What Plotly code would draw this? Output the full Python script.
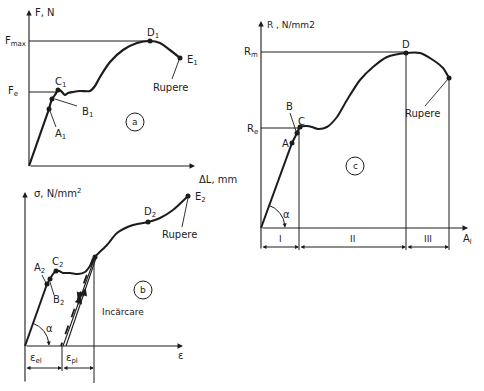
import numpy as np
import plotly.graph_objects as go

# ---------------- Panel a : F - ΔL ----------------
a_dL = [0, 20, 23, 26, 29, 32, 36, 39, 44, 51, 61, 66, 71, 81, 94, 108, 121, 131, 141, 151]
a_F = [0, 57, 67, 71, 76, 75, 71, 73, 74, 75, 75, 80, 89, 104, 116, 123, 125, 123, 116, 108]
a_pts_x = [20, 23, 29, 121, 151]
a_pts_y = [57, 67, 76, 125, 108]
a_pts_lbl = ["A<sub>1</sub>", "B<sub>1</sub>", "C<sub>1</sub>", "D<sub>1</sub>", "E<sub>1</sub>"]
a_Fe = 74
a_Fmax = 125

# ---------------- Panel b : σ - ε ----------------
b_eps = [0, 22, 25, 28, 31, 34, 38, 45, 53, 60, 65, 70, 82, 92, 108, 123, 135, 148, 163]
b_sig = [0, 62, 67, 72, 75, 75, 73, 73, 72, 74, 80, 89, 101, 113, 121, 124, 128, 136, 150]
b_pts_x = [22, 25, 31, 70, 123, 163]
b_pts_y = [62, 67, 75, 89, 124, 150]
b_unload_top = 69
b_unload_foot = 37

# ---------------- Panel c : R - A ----------------
c_A = [0, 31, 36, 39, 46, 51, 57, 66, 76, 86, 99, 112, 126, 145, 159, 172, 182, 188]
c_R = [0, 85, 95, 101, 102, 101, 99, 101, 111, 128, 148, 161, 171, 175, 175, 168, 160, 150]
c_pts_x = [31, 36, 39, 145, 188]
c_pts_y = [85, 95, 101, 175, 150]
c_Re = 100
c_Rm = 176
c_zones = ["I", "II", "III"]

INK = "#1c1c1c"
FONT = "DejaVu Sans"
fig = go.Figure()


def line(xs, ys, ax, w=1.0, dash=None, color=INK, shape="linear"):
    fig.add_trace(go.Scatter(x=xs, y=ys, mode="lines", xaxis="x" + ax, yaxis="y" + ax,
                             line=dict(color=color, width=w, dash=dash, shape=shape,
                                       smoothing=0.7 if shape == "spline" else None),
                             hoverinfo="skip", showlegend=False))


def curve(xs, ys, ax, k, w):
    # straight elastic part up to point k, smooth curve afterwards
    line(xs[:k + 1], ys[:k + 1], ax, w=w)
    line(xs[k:], ys[k:], ax, w=w, shape="spline")


def dots(xs, ys, ax):
    fig.add_trace(go.Scatter(x=xs, y=ys, mode="markers", xaxis="x" + ax, yaxis="y" + ax,
                             marker=dict(color=INK, size=5), hoverinfo="skip", showlegend=False))


anns = []


def txt(x, y, s, ax, size=10, xanchor="center", yanchor="middle"):
    anns.append(dict(x=x, y=y, text=s, xref="x" + ax, yref="y" + ax, showarrow=False,
                     xanchor=xanchor, yanchor=yanchor,
                     font=dict(family=FONT, size=size, color=INK)))


def arrow(x0, y0, x1, y1, ax, both=False, head=2, size=1.0, w=1.0):
    d = dict(x=x1, y=y1, ax=x0, ay=y0, xref="x" + ax, yref="y" + ax, axref="x" + ax, ayref="y" + ax,
             showarrow=True, arrowhead=head, arrowsize=size, arrowwidth=w, arrowcolor=INK, text="")
    if both:
        d["arrowside"] = "end+start"
        d["startarrowhead"] = head
        d["startarrowsize"] = size
    anns.append(d)


shapes = []


def circle(cx, cy, r, ax, label):
    shapes.append(dict(type="circle", xref="x" + ax, yref="y" + ax, x0=cx - r, x1=cx + r,
                       y0=cy - r, y1=cy + r, line=dict(color=INK, width=1)))
    txt(cx, cy, label, ax, size=9)


def arc(r, deg, ax):
    t = np.radians(np.linspace(deg, 3, 30))
    line(list(r * np.cos(t)), list(r * np.sin(t)), ax, w=1)
    arrow(r * np.cos(np.radians(8)), r * np.sin(np.radians(8)), r, 0.5, ax, head=2, size=0.8)


# ===== Panel a =====
A = ""
arrow(0, 0, 0, 156, A, w=1.1)
arrow(0, 0, 166, 0, A, w=1.1)
line([0, a_pts_x[2]], [a_Fe, a_Fe], A, w=1)
line([0, a_pts_x[3]], [a_Fmax, a_Fmax], A, w=1)
curve(a_dL, a_F, A, 1, 2.2)
dots(a_pts_x, a_pts_y, A)
txt(4, 154, "F, N", A, xanchor="left")
txt(168, -13, "ΔL, mm", A, xanchor="left")
txt(-1, a_Fmax, "F<sub>max</sub>", A, xanchor="right")
txt(-9, a_Fe + 1, "F<sub>e</sub>", A, xanchor="right")
txt(31, 84, a_pts_lbl[2], A)
txt(51, 54, a_pts_lbl[1], A, xanchor="left")
line([48, 26], [60, 67], A, w=0.9)
txt(31, 32, a_pts_lbl[0], A)
line([27, 21], [39, 55], A, w=0.9)
txt(124, 133, a_pts_lbl[3], A)
txt(156, 106, a_pts_lbl[4], A, xanchor="left")
txt(141, 79, "Rupere", A)
line([143, 150], [87, 106], A, w=0.9)
circle(106, 44, 9, A, "a")

# ===== Panel b =====
B = "2"
arrow(0, -37, 0, 154, B, w=1.1)
arrow(0, 0, 158, 0, B, w=1.1)
curve(b_eps, b_sig, B, 1, 2.0)
dots(b_pts_x, b_pts_y, B)
# unloading / reloading lines
line([b_unload_top - 1, b_unload_foot - 1], [88, 0], B, w=1.8, dash="dash")
line([b_unload_foot + 1, b_unload_top + 1], [0, 89], B, w=1.1)
line([b_unload_foot + 4, b_unload_top + 2], [0, 88], B, w=1.1)
arrow(56.4, 56, 52.7, 46, B, head=2, size=1.4, w=1.1)
arrow(52.4, 40, 56.0, 50, B, head=2, size=1.4, w=1.1)
arrow(57.4, 48, 60.8, 58, B, head=2, size=1.4, w=1.1)
line([b_unload_top, b_unload_top], [88, -37], B, w=1)
line([b_unload_foot, b_unload_foot], [0, -25], B, w=1)
arrow(0, -22, b_unload_foot, -22, B, both=True, size=0.8)
arrow(b_unload_foot, -22, b_unload_top, -22, B, both=True, size=0.8)
txt(11, -12, "ε<sub>el</sub>", B)
txt(47, -12, "ε<sub>pl</sub>", B)
txt(155, -9, "ε", B)
txt(7, 153, "σ, N/mm<sup>2</sup>", B, xanchor="left")
txt(14, 78, "A<sub>2</sub>", B)
line([17, 21], [71, 63], B, w=0.9)
txt(33, 46, "B<sub>2</sub>", B)
line([29, 25], [51, 64], B, w=0.9)
txt(32, 84, "C<sub>2</sub>", B)
txt(125, 134, "D<sub>2</sub>", B)
txt(168, 149, "E<sub>2</sub>", B, xanchor="left")
txt(154, 112, "Rupere", B)
line([157, 163], [119, 148], B, w=0.9)
txt(75, 34, "Incărcare", B, xanchor="left", size=9)
circle(118, 56, 9, B, "b")
arc(24, 70, B)
txt(24, 18, "α", B)

# ===== Panel c =====
C = "3"
arrow(0, -22, 0, 207, C, w=1.1)
arrow(0, 0, 207, 0, C, w=1.1)
line([0, c_pts_x[2]], [c_Re, c_Re], C, w=1)
line([0, c_pts_x[3]], [c_Rm, c_Rm], C, w=1)
curve(c_A, c_R, C, 2, 2.0)
dots(c_pts_x, c_pts_y, C)
zb = [0, 38, 145, 188]
tops = [None, c_Re, c_Rm, c_R[-1]]
for xb, tp in zip(zb[1:], tops[1:]):
    line([xb, xb], [tp, -22], C, w=1)
for i in range(3):
    arrow(zb[i], -19, zb[i + 1], -19, C, both=True, size=0.8)
    txt((zb[i] + zb[i + 1]) / 2, -11, c_zones[i], C, size=9)
txt(4, 203, "R , N/mm2", C, xanchor="left", size=9)
txt(200, -11, "A<sub>l</sub>", C, xanchor="left")
txt(-1, c_Rm, "R<sub>m</sub>", C, xanchor="right")
txt(-1, c_Re - 1, "R<sub>e</sub>", C, xanchor="right")
txt(24, 85, "A", C)
txt(28, 122, "B", C)
line([29, 35], [115, 97], C, w=0.9)
txt(40, 107, "C", C)
txt(145, 184, "D", C)
txt(161, 115, "Rupere", C)
line([164, 187], [122, 149], C, w=0.9)
circle(94, 62, 9, C, "c")
arc(24, 70, C)
txt(25, 14, "α", C)

W, H = 484, 391
ax_common = dict(visible=False, fixedrange=True)
fig.update_layout(
    width=W, height=H, margin=dict(l=0, r=0, t=0, b=0),
    paper_bgcolor="white", plot_bgcolor="rgba(0,0,0,0)",
    xaxis=dict(domain=[0, 240 / W], range=[-29, 211], **ax_common),
    yaxis=dict(domain=[201 / H, 1], range=[-24, 166], **ax_common),
    xaxis2=dict(domain=[0, 240 / W], range=[-25, 215], **ax_common),
    yaxis2=dict(domain=[0, 201 / H], range=[-45, 156], **ax_common),
    xaxis3=dict(domain=[240 / W, 1], range=[-21, 223], **ax_common),
    yaxis3=dict(domain=[131 / H, 1], range=[-32, 228], **ax_common),
    annotations=anns, shapes=shapes, showlegend=False,
)
fig.write_html("out.html", config={"displayModeBar": False, "staticPlot": True},
               post_script="document.body.style.margin='0';document.body.style.overflow='hidden';")
